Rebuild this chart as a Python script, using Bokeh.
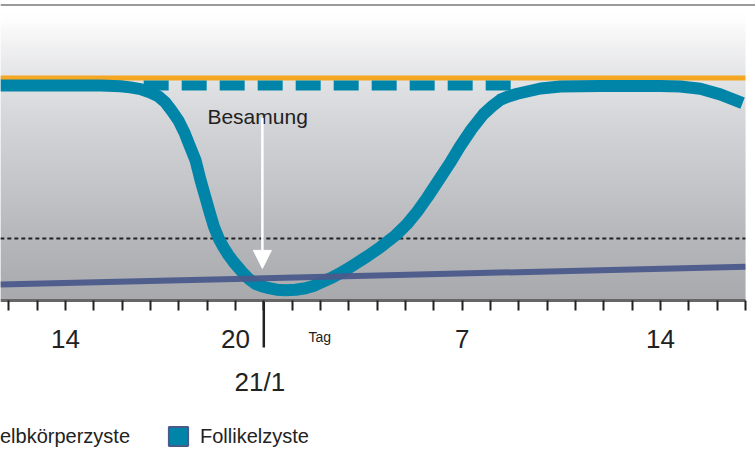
import numpy as np
from bokeh.plotting import figure
from bokeh.models import (Range1d, FixedTicker, Arrow, NormalHead, Legend,
                          LegendItem, ColumnDataSource)
from bokeh.core.properties import value
from bokeh.embed import file_html
from bokeh.resources import INLINE

# ---------------- data ----------------
tick_days = list(range(-9, 18))
tick_text = {-7: "14", -1: "20", 7: "7", 14: "14"}
cycle_day = 0
cycle_label = "21/1"
unit_label = "Tag"
insem_label = "Besamung"
legend_labels = ["Gelbkörperzyste", "Follikelzyste"]

# Follikelzyste (solid curve)
foll_days = [-9.3, -5.76, -5.06, -4.71, -4.35, -4.0, -3.72, -3.47, -3.26, -3.01, -2.80,
             -2.62, -2.41, -2.23, -2.06, -1.90, -1.76, -1.59, -1.42, -1.25, -1.06, -0.76,
             -0.54, -0.29, -0.05, 0.18, 0.45, 0.77, 1.12, 1.47, 1.75, 2.06, 2.35, 2.65,
             2.95, 3.24, 3.66, 4.12, 4.65, 5.04, 5.42, 5.78, 6.18, 6.56, 6.91, 7.33, 7.76,
             8.07, 8.36, 8.64, 8.95, 9.77, 10.47, 11.88, 14.0, 14.70, 15.41, 16.11, 16.90]
foll_vals = [73.6, 73.6, 73.4, 73.0, 72.4, 71.2, 69.9, 67.8, 65.1, 61.6, 57.5,
             53.1, 48.0, 41.1, 35.3, 29.8, 25.3, 21.2, 18.2, 15.6, 13.1, 9.7,
             7.5, 5.7, 4.8, 4.25, 3.7, 3.5, 3.7, 4.2, 5.0, 6.3, 7.6, 9.1,
             10.8, 12.6, 15.2, 18.3, 22.3, 26.0, 30.5, 35.4, 41.3, 46.9, 52.5, 58.6, 63.9,
             66.6, 68.8, 69.9, 70.8, 72.6, 73.3, 73.5, 73.5, 73.3, 72.5, 70.6, 67.6]
# Follikelzyste without insemination (dashed)
foll_dash_days = [-4.24, 8.78]
foll_dash_vals = [73.6, 73.6]
# Gelbkörperzyste (orange)
gelb_days = [-9.3, 17.0]
gelb_vals = [76.2, 76.2]
# baseline series (dark blue)
base_days = [-9.3, 17.0]
base_vals = [5.5, 11.55]
# threshold (dotted)
thr_days = [-9.3, 17.0]
thr_vals = [21.2, 21.2]
# insemination arrow
insem_day = -0.05
insem_from = 62.5
insem_to = 11.0
insem_text_pos = (-1.99, 62.9)

# ---------------- styling / layout ----------------
FONT = "Liberation Sans"
TEAL = "#0085a8"
ORANGE = "#f5a623"
NAVY = "#4a5a8b"
W, H = 755, 453
PXD = 28.33          # px per day
PXY = 2.92           # px per y unit
X_ORIGIN = 263.3     # px of day 0
Y_ORIGIN = 300.0     # px of y = 0
x0 = -X_ORIGIN / PXD
x1 = (W - X_ORIGIN) / PXD
y1 = Y_ORIGIN / PXY
y0 = -(H - Y_ORIGIN) / PXY
px_y = lambda n: n / PXY  # pixel offsets -> y units
px_x = lambda n: n / PXD

p = figure(width=W, height=H, output_backend="svg", toolbar_location=None,
           x_range=Range1d(x0, x1), y_range=Range1d(y0, y1),
           y_axis_location=None, min_border=0)
p.grid.visible = False
p.outline_line_color = None
p.background_fill_color = "white"
p.border_fill_color = "white"

x_right = 17.0
# background gradient (style)
top_bg = y1 - px_y(5)
stops_y = [0, 20, 40, 60, 76, 88, 97, top_bg]
stops_c = ["#a8a9ad", "#b5b6ba", "#c4c5c9", "#d3d4d7", "#e2e3e5", "#f2f2f3", "#fefefe", "#ffffff"]
def hex2rgb(h):
    return np.array([int(h[i:i + 2], 16) for i in (1, 3, 5)], dtype=float)
rgbs = np.array([hex2rgb(c) for c in stops_c])
edges = np.linspace(0, top_bg, 151)
mids = (edges[:-1] + edges[1:]) / 2
cols = []
for m in mids:
    c = [np.interp(m, stops_y, rgbs[:, k]) for k in range(3)]
    cols.append("#%02x%02x%02x" % tuple(int(round(v)) for v in c))
tops = np.minimum(edges[1:] + 0.4, top_bg)
p.quad(left=x0, right=x_right, bottom=edges[:-1], top=tops, fill_color=cols, line_color=None)

# top rule
p.line([x0, x1], [y1 - px_y(4.5)] * 2, line_color="#9a9a9a", line_width=2)

# series
p.line(thr_days, thr_vals, line_color="#222222", line_width=2, line_dash="4 3")
p.line(gelb_days, gelb_vals, line_color=ORANGE, line_width=5)
p.line(foll_dash_days, foll_dash_vals, line_color=TEAL, line_width=10, line_dash="25 13")
p.line(foll_days, foll_vals, line_color=TEAL, line_width=12, line_join="round")
p.line(base_days, base_vals, line_color=NAVY, line_width=6, line_alpha=0.95)

# insemination arrow and label
p.add_layout(Arrow(end=NormalHead(size=18, fill_color="white", line_color="white", line_width=1),
                   x_start=insem_day, y_start=insem_from, x_end=insem_day, y_end=insem_to,
                   line_color="white", line_width=2.5))
p.text(x=[insem_text_pos[0]], y=[insem_text_pos[1]], text=[insem_label],
       text_font=value(FONT), text_font_size="21px", text_color="#222222",
       text_align="left", text_baseline="alphabetic")

# x axis at y = 0
ax = p.xaxis[0]
ax.fixed_location = 0
ax.bounds = (x0, x_right)
ax.ticker = FixedTicker(ticks=tick_days)
ax.major_label_overrides = {d: tick_text.get(d, "") for d in tick_days}
ax.major_tick_out = 10
ax.major_tick_in = 0
ax.minor_tick_out = 0
ax.minor_tick_in = 0
ax.major_tick_line_width = 2
ax.major_tick_line_color = "#222222"
ax.axis_line_color = "#666666"
ax.axis_line_width = 3
ax.major_label_text_font = FONT
ax.major_label_text_font_size = "26px"
ax.major_label_text_color = "#222222"
ax.major_label_standoff = 19

# long tick at cycle start, and labels under axis
p.segment(x0=[cycle_day], y0=[0], x1=[cycle_day], y1=[-px_y(47)],
          line_color="#222222", line_width=2.5)
p.text(x=[cycle_day - px_x(4)], y=[-px_y(81)], text=[cycle_label], text_align="center",
       text_baseline="alphabetic", text_font=value(FONT), text_font_size="26px",
       text_color="#222222")
p.text(x=[cycle_day + px_x(56)], y=[-px_y(36)], text=[unit_label], text_align="center",
       text_baseline="alphabetic", text_font=value(FONT), text_font_size="14px",
       text_color="#222222")

# legend (swatch renderers carry no visible data)
src_swatch = lambda: ColumnDataSource(dict(l=[np.nan], r=[np.nan], b=[np.nan], t=[np.nan]))
r_gelb = p.quad(left="l", right="r", bottom="b", top="t", source=src_swatch(),
                fill_color=ORANGE, line_color=NAVY, line_width=2)
r_foll = p.quad(left="l", right="r", bottom="b", top="t", source=src_swatch(),
                fill_color=TEAL, line_color=NAVY, line_width=2)
legend = Legend(items=[LegendItem(label=legend_labels[0], renderers=[r_gelb]),
                       LegendItem(label=legend_labels[1], renderers=[r_foll])],
                orientation="horizontal", location=(-49.6, 5),
                glyph_width=24, glyph_height=24, label_standoff=10, spacing=36,
                padding=0, margin=0, border_line_color=None, background_fill_alpha=0,
                label_text_font=FONT, label_text_font_size="20px", label_text_color="#222222")
p.add_layout(legend, "center")

open("out.html", "w").write(file_html(p, INLINE))
